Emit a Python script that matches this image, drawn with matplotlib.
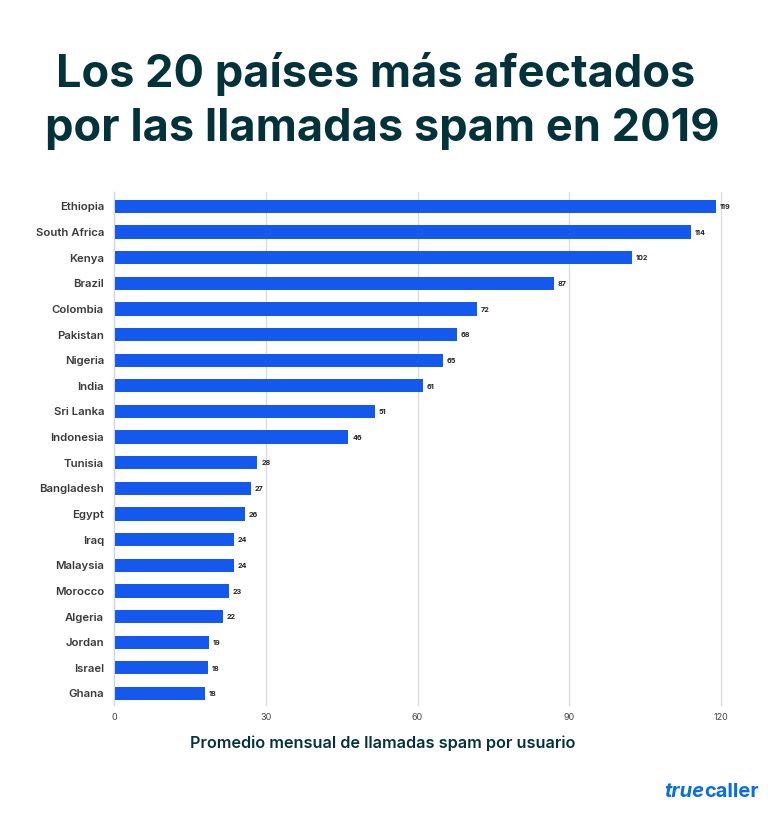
import matplotlib
matplotlib.use("agg")
import matplotlib.pyplot as plt

countries = ["Ethiopia", "South Africa", "Kenya", "Brazil", "Colombia", "Pakistan", "Nigeria",
             "India", "Sri Lanka", "Indonesia", "Tunisia", "Bangladesh", "Egypt", "Iraq",
             "Malaysia", "Morocco", "Algeria", "Jordan", "Israel", "Ghana"]
values = [119, 114, 102.4, 87, 71.8, 67.8, 65, 61, 51.5, 46.3, 28.3, 27, 25.9, 23.7, 23.7, 22.7,
          21.5, 18.7, 18.5, 18]
bar_labels = [119, 114, 102, 87, 72, 68, 65, 61, 51, 46, 28, 27, 26, 24, 24, 23, 22, 19, 18, 18]
x_ticks = [0, 30, 60, 90, 120]

W, H = 768, 817
plt.rcParams["font.family"] = ["Inter", "DejaVu Sans"]

fig = plt.figure(figsize=(W / 100, H / 100), dpi=100)
ax = fig.add_axes([114 / W, 1 - 705 / H, (721 - 114) / W, (705 - 192) / H])

ypos = list(range(len(countries)))
ax.set_axisbelow(True)
for line in ax.grid(axis="x", color="#dcdcdc", lw=1) or []:
    pass
ax.barh(ypos, values, height=0.52, color="#1558ee", edgecolor="none")
for y, v, lab in zip(ypos, values, bar_labels):
    ax.text(v + 0.8, y + 0.03, str(lab), fontsize=5.2, fontweight="bold", color="#222222", va="center")

ax.set_xlim(0, 120)
ax.set_ylim(19.45, -0.56)
ax.set_yticks(ypos)
ax.set_yticklabels(countries, fontsize=8.2, fontweight="semibold", color="#3a3a3a")
ax.set_xticks(x_ticks)
ax.tick_params(axis="both", length=0)
ax.tick_params(axis="y", pad=7.2)
ax.tick_params(axis="x", pad=6, labelsize=6.5, labelcolor="#444444")
for gl in ax.get_xgridlines():
    gl.set_clip_on(False)
for s in ["top", "right", "bottom"]:
    ax.spines[s].set_visible(False)
ax.spines["left"].set_color("#c9d6ee")

title_color = "#04323a"
fig.text(376 / W, 1 - 74 / H, "Los 20 países más afectados", fontsize=32.5, fontweight="bold",
         color=title_color, ha="center", va="center")
fig.text(382 / W, 1 - 129 / H, "por las llamadas spam en 2019", fontsize=32.5, fontweight="bold",
         color=title_color, ha="center", va="center")
fig.text(383 / W, 1 - 743 / H, "Promedio mensual de llamadas spam por usuario", fontsize=11.7,
         fontweight="semibold", color=title_color, ha="center", va="center")
fig.text(704 / W, 1 - 792 / H, "true", fontsize=14.5, fontweight="bold", fontstyle="italic",
         color="#0a6fdc", ha="right", va="center")
fig.text(704 / W, 1 - 792 / H, "caller", fontsize=14.5, fontweight="bold", color="#0a6fdc",
         ha="left", va="center")

fig.savefig("out.png", dpi=100)
